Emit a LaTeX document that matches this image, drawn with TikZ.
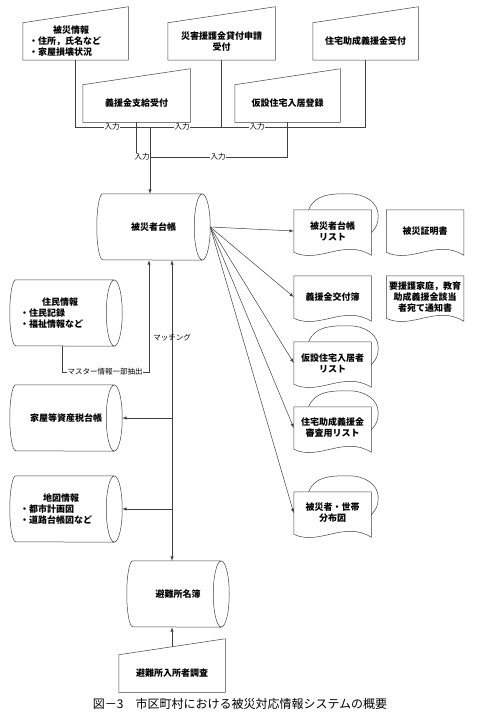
\documentclass[tikz,border=0pt]{standalone}
\usepackage{fontspec}
\setmainfont{Noto Sans CJK JP}
\usetikzlibrary{arrows}

\begin{document}
\begin{tikzpicture}[x=1pt,y=-1pt,
        line width=0.5pt, color=black!75,
        every node/.style={font=\fontsize{9}{11}\selectfont\bfseries, text=black, inner sep=1pt, align=center},
        inbox/.style={minimum width=#1, minimum height=37pt},
        dbase/.style={minimum width=112pt, minimum height=66pt},
        docu/.style={minimum width=77pt, minimum height=42pt},
        lbl/.style={font=\fontsize{7.5}{9}\selectfont, fill=white, inner sep=0.5pt}
    ]
        \useasboundingbox (0,0) rectangle (500,717);
        % input forms
        \node[inbox=105pt,text width=93pt,align=left] (in1) at (75.5,41.5) {\hspace*{24pt}被災情報\\・住所，氏名など\\・家屋損壊状況};
        \node[inbox=107pt] (in2) at (221.5,41.5) {災害援護金貸付申請\\受付};
        \node[inbox=105pt] (in3) at (365.5,41.5) {住宅助成義援金受付};
        \node[inbox=107pt] (in4) at (136.5,103.5) {義援金支給受付};
        \node[inbox=105pt] (in5) at (287.5,103.5) {仮設住宅入居登録};
        \node[inbox=106pt] (chosa) at (172,673.5) {避難所入所者調査};
        \foreach \n in {in1,in2,in3,in4,in5,chosa}
            \draw (\n.south west) -- (\n.north west) -- ([yshift=16pt]\n.north east) -- (\n.south east) -- cycle;
        % databases
        \node[dbase,minimum width=113pt] (daicho) at (153.5,227) {被災者台帳};
        \node[dbase,text width=92pt,align=left] (jumin) at (66,313) {\hspace*{22pt}住民情報\\・住民記録\\・福祉情報など};
        \node[dbase] (kaoku) at (66,418) {家屋等資産税台帳};
        \node[dbase,text width=92pt,align=left] (chizu) at (66,509) {\hspace*{23pt}地図情報\\・都市計画図\\・道路台帳図など};
        \node[dbase,minimum width=102pt] (hinan) at (178,594) {避難所名簿};
        \foreach \n in {daicho,jumin,kaoku,chizu,hinan}
            \draw ([xshift=-8pt]\n.north east) -- ([xshift=6pt]\n.north west)
                arc[start angle=90,end angle=270,x radius=6pt,y radius=33pt] -- ([xshift=-8pt]\n.south east)
                ([xshift=-8pt]\n.east) ellipse[x radius=8pt,y radius=33pt];
        % documents
        \node[docu] (d1) at (332.5,231) {被災者台帳\\リスト};
        \node[docu] (d2) at (425,231) {被災証明書};
        \node[docu] (d3) at (332.5,297) {義援金交付簿};
        \node[docu] (d4) at (425,297) {要援護家庭，教育\\助成義援金該当\\者宛て通知書};
        \node[docu] (d5) at (332.5,363) {仮設住宅入居者\\リスト};
        \node[docu] (d6) at (332.5,428) {住宅助成義援金\\審査用リスト};
        \node[docu] (d7) at (332.5,513) {被災者・世帯\\分布図};
        \foreach \n in {d1,d2,d3,d4,d5,d6,d7}
            \draw (\n.south west) -- (\n.north west) -- (\n.north east) -- ([yshift=-3pt]\n.south east)
                .. controls +(-27pt,17pt) and +(25pt,-12pt) .. (\n.south west);
        \foreach \n in {d1,d5,d6,d7}
            \draw ([xshift=15pt]\n.north west) to[out=70,in=180] ([xshift=-22pt,yshift=16pt]\n.north east)
                to[out=0,in=90] ([xshift=7pt,yshift=-6pt]\n.north east) to[out=-90,in=45] ([yshift=-23pt]\n.north east);

        % input lines
        \coordinate (b) at (150,127);
        \coordinate (c) at (150,157);
        \coordinate (e) at (149,372);
        \coordinate (m) at (172,300);
        \draw (in1.south) |- (in3.south |- b) -- (in3.south);
        \draw (in2.south) -- (in2.south |- b);
        \draw (in4.south) |- (in5.south |- c) -- (in5.south);
        \draw[-latex] (b) -- (daicho.north -| b);
        \foreach \x/\n in {112/i1,182/i2,257/i3}
            \node[lbl] (\n) at (\x,127) {入力};
        \foreach \x/\n in {142/i4,218/i5}
            \node[lbl] (\n) at (\x,157) {入力};

        % outputs
        \foreach \n in {d1,d3,d5,d6,d7}
            \draw[-latex] (daicho.east) -- (\n.west);

        % master data and matching
        \draw[-latex] ([xshift=-4pt]jumin.south) |- (e) -- (daicho.south -| e);
        \node[lbl] (master) at (105,372) {マスター情報一部抽出};
        \draw[latex-latex] (daicho.south -| m) -- (hinan.north -| m);
        \node[lbl,fill=none] (match) at (172,338) {マッチング};
        \draw[-latex] (kaoku.east -| m) -- (kaoku.east);
        \draw[-latex] (chizu.east -| m) -- (chizu.east);
        \draw[-latex] ([yshift=8pt]chosa.north) -- (hinan.south -| chosa.north);

        \node[font=\fontsize{12}{14}\selectfont] (cap) at (240,704) {図－3　市区町村における被災対応情報システムの概要};
    \end{tikzpicture}
\end{document}
